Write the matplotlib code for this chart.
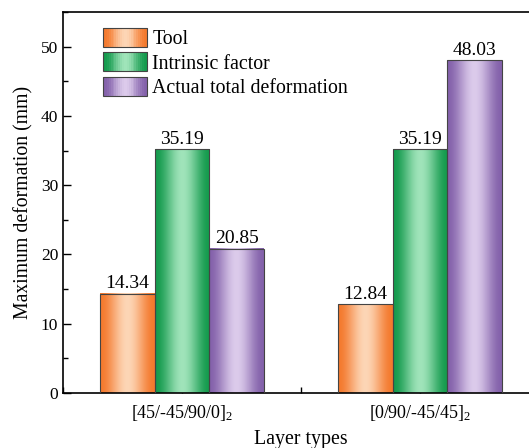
import numpy as np
import matplotlib
matplotlib.use("Agg")
import matplotlib.pyplot as plt
from matplotlib.colors import to_rgb
from matplotlib.patches import Rectangle
from matplotlib.legend_handler import HandlerBase
from matplotlib.ticker import MultipleLocator

plt.rcParams["font.family"] = ["Liberation Serif", "DejaVu Serif"]
plt.rcParams["mathtext.fontset"] = "custom"
plt.rcParams["mathtext.rm"] = "Liberation Serif"
plt.rcParams["mathtext.it"] = "Liberation Serif"

layers = ["[45/-45/90/0]$_2$", "[0/90/-45/45]$_2$"]
series = ["Tool", "Intrinsic factor", "Actual total deformation"]
tool = [14.34, 12.84]
intrinsic = [35.19, 35.19]
actual = [20.85, 48.03]

# (edge colour, light centre colour) per series
shades = [("#F47A2E", "#FDD6B6"),
          ("#159B4E", "#A0E4BA"),
          ("#8462AB", "#DCCBEB")]


def gradient(edge, light, n=64):
    t = np.linspace(0, 1, n)
    # dark edges, light middle (Origin-style gradient fill)
    s = np.clip(1 - np.abs(t - 0.5) / 0.5, 0, 1)
    f = s * s * (3 - 2 * s)
    e, l = np.array(to_rgb(edge)), np.array(to_rgb(light))
    return e[None, :] * (1 - f[:, None]) + l[None, :] * f[:, None]


class GradientHandler(HandlerBase):
    def __init__(self, edge, light):
        super().__init__()
        self.cols = gradient(edge, light, 24)

    def create_artists(self, legend, orig, xd, yd, width, height, fontsize, trans):
        arts = []
        n = len(self.cols)
        for i, c in enumerate(self.cols):
            arts.append(Rectangle((-xd + width * i / n, -yd), width / n + 0.3, height,
                                  facecolor=c, edgecolor="none", transform=trans))
        arts.append(Rectangle((-xd, -yd), width, height, facecolor="none",
                              edgecolor="#444444", linewidth=0.8, transform=trans))
        return arts


fig = plt.figure(figsize=(5.29, 4.48), dpi=100)
ax = fig.add_axes([63 / 529, 55 / 448, 476 / 529, 381 / 448])

x = np.arange(len(layers))
w = 0.231
handles = []
for k, vals in enumerate([tool, intrinsic, actual]):
    edge, light = shades[k]
    img = gradient(edge, light)[None, :, :]
    bars = ax.bar(x + (k - 1) * w, vals, w, facecolor="none",
                  edgecolor="#444444", linewidth=0.8, zorder=3, label=series[k])
    for b in bars:
        ax.imshow(img, extent=(b.get_x(), b.get_x() + b.get_width(), 0, b.get_height()),
                  aspect="auto", zorder=2, interpolation="bilinear")
    ax.bar_label(bars, labels=[f"{v:.2f}" for v in vals], padding=1, fontsize=14)
    handles.append(bars)

ax.set_xlim(-0.5, 1.5)
ax.set_ylim(0, 55)
ax.set_xticks(x)
ax.set_xticklabels(layers, fontsize=13)
ax.xaxis.set_minor_locator(MultipleLocator(0.5))
ax.yaxis.set_major_locator(MultipleLocator(10))
ax.yaxis.set_minor_locator(MultipleLocator(5))
ax.tick_params(which="both", direction="in", labelsize=12.5, width=1.0)
ax.tick_params(axis="x", labelsize=13)
ax.tick_params(which="major", length=6)
ax.tick_params(which="minor", length=3.5)
ax.tick_params(axis="x", which="minor", length=4)
ax.tick_params(axis="x", pad=7)
for s in ax.spines.values():
    s.set_linewidth(1.2)
ax.set_xlabel("Layer types", fontsize=14.3, labelpad=5)
ax.set_ylabel("Maximum deformation (mm)", fontsize=14.2, labelpad=5)

ax.legend(handles, series, loc="upper left", bbox_to_anchor=(0.06, 0.99),
          frameon=False, fontsize=14.3, handlelength=2.2, handleheight=1.1,
          labelspacing=0.17, handletextpad=0.25, borderaxespad=0.2,
          handler_map={h: GradientHandler(*shades[i]) for i, h in enumerate(handles)})

fig.savefig("out.png", dpi=100)
